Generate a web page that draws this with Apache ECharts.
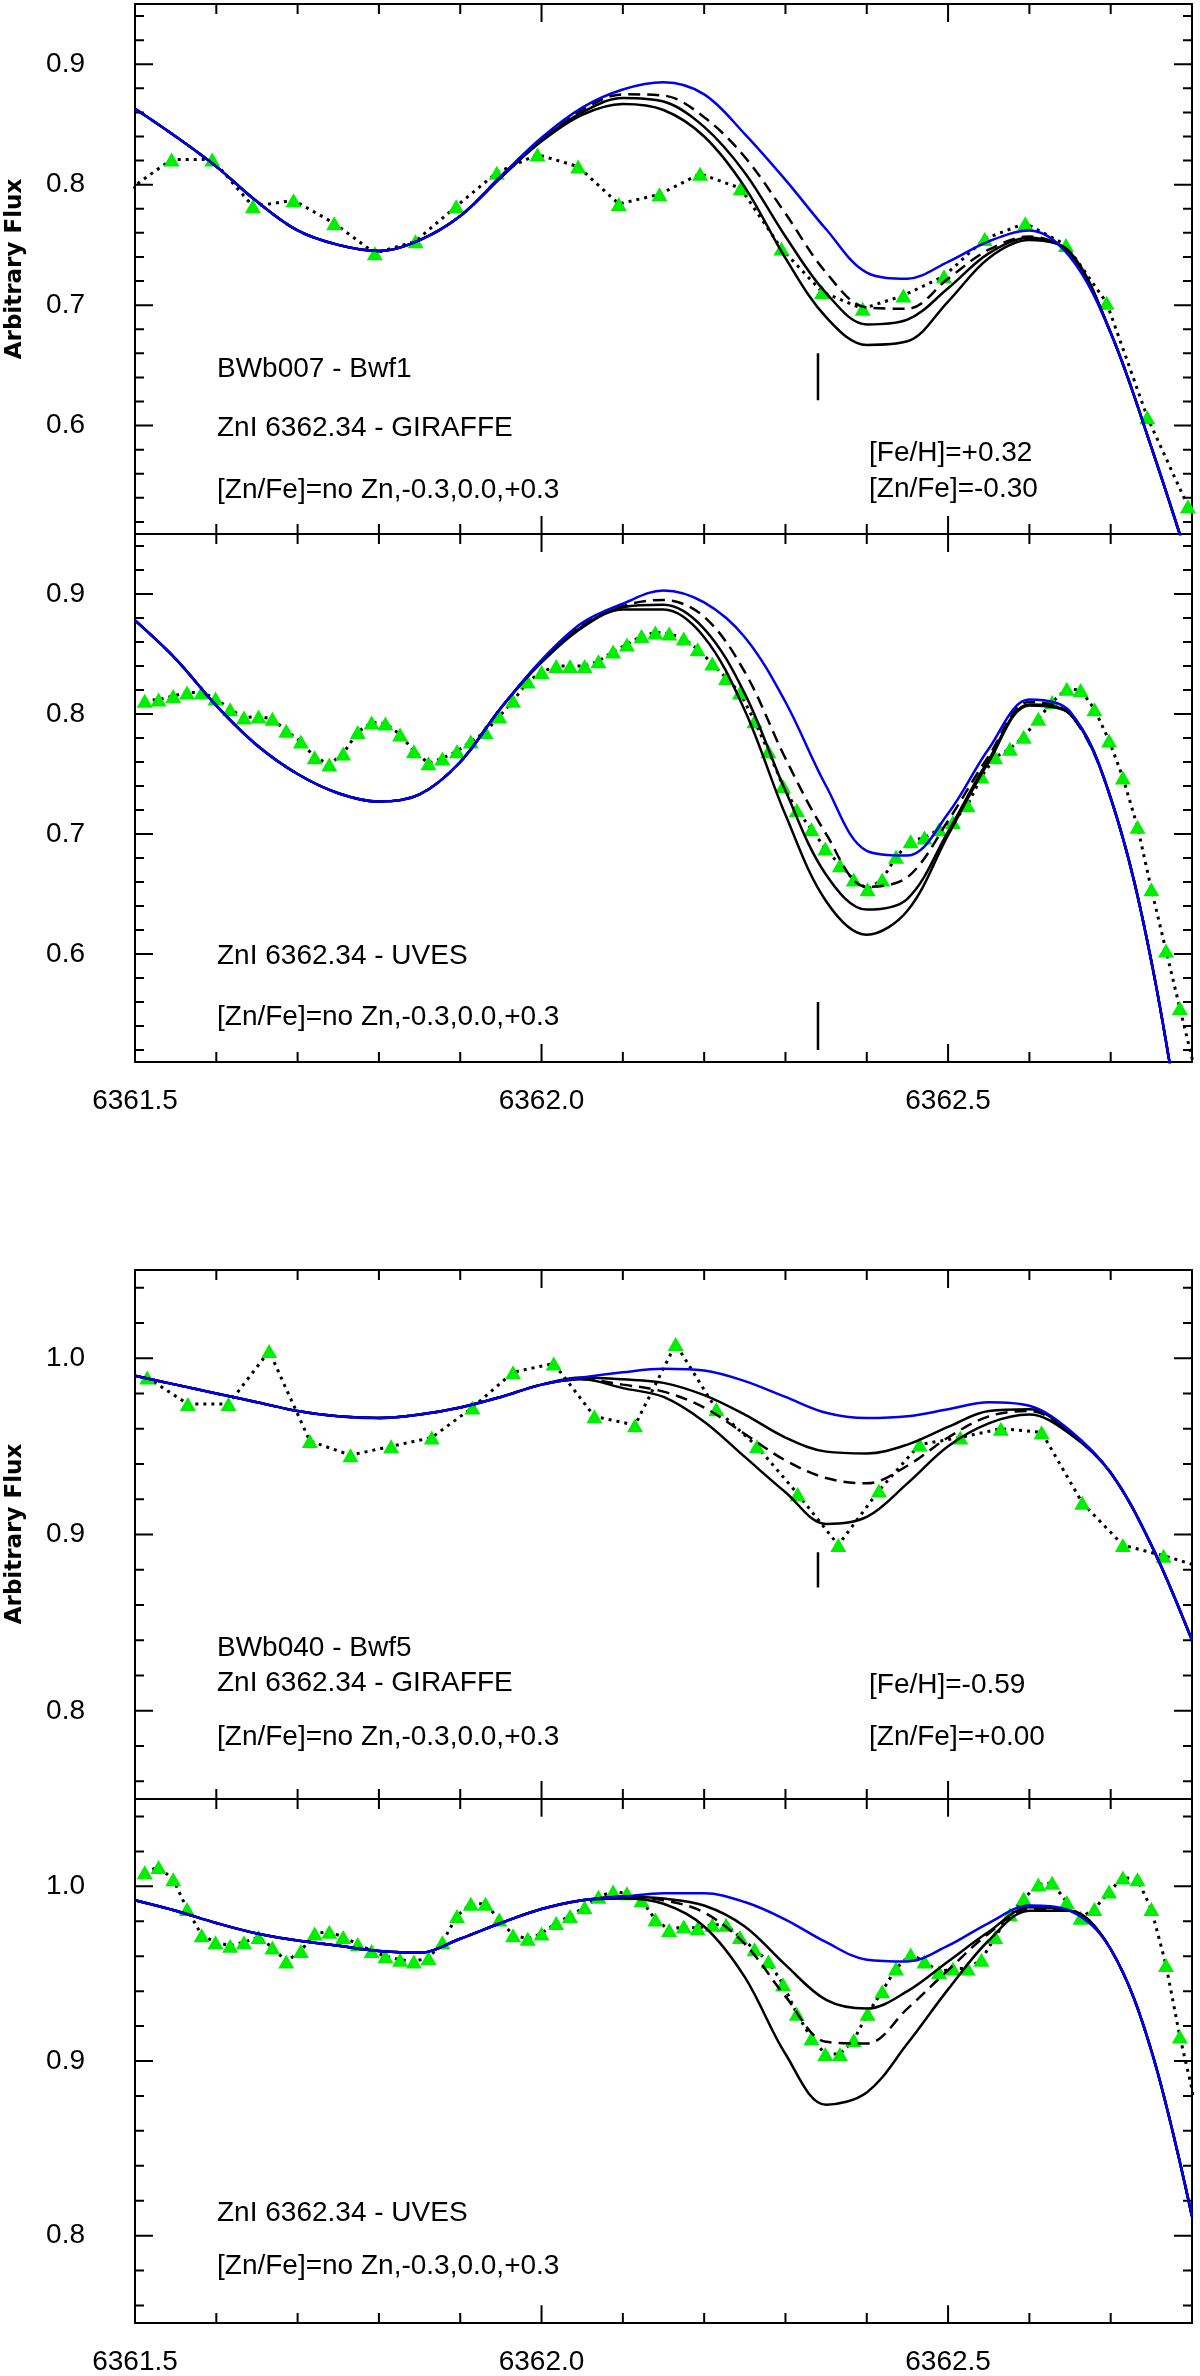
<!DOCTYPE html>
<html>
<head>
<meta charset="utf-8">
<script src="https://cdn.jsdelivr.net/npm/echarts@6/dist/echarts.min.js"></script>
<style>
    html, body { margin: 0; padding: 0; background: #fff; }
    #chartBox { width: 1200px; height: 2376px; }
</style>
</head>
<body>
<div id="chartBox"></div>
<script>
// wavelength grid of the synthetic spectra
var modelX = [6361.50, 6361.55, 6361.60, 6361.65, 6361.70, 6361.75, 6361.80, 6361.85, 6361.90, 6361.95,
    6362.00, 6362.05, 6362.10, 6362.15, 6362.20, 6362.25, 6362.30, 6362.35, 6362.40, 6362.45,
    6362.50, 6362.55, 6362.60, 6362.65, 6362.70, 6362.75, 6362.80];

// BWb007 GIRAFFE
var g1X = [6361.495, 6361.545, 6361.595, 6361.645, 6361.695, 6361.745, 6361.795, 6361.845, 6361.895, 6361.945,
    6361.995, 6362.045, 6362.095, 6362.145, 6362.195, 6362.245, 6362.295, 6362.345, 6362.395, 6362.445,
    6362.495, 6362.545, 6362.595, 6362.645, 6362.695, 6362.745, 6362.795];
var g1Flux = [0.797, 0.821, 0.821, 0.782, 0.787, 0.768, 0.743, 0.753, 0.782, 0.810,
    0.825, 0.815, 0.784, 0.792, 0.809, 0.797, 0.747, 0.711, 0.697, 0.708,
    0.724, 0.755, 0.768, 0.750, 0.702, 0.607, 0.533];
var m1NoZn = [0.863, 0.840, 0.815, 0.786, 0.762, 0.750, 0.745, 0.754, 0.774, 0.807, 0.839, 0.864, 0.879, 0.885, 0.875, 0.842, 0.804, 0.763, 0.727, 0.722, 0.736, 0.753, 0.762, 0.740, 0.677, 0.582, 0.478];
var m1M03 = [0.863, 0.840, 0.815, 0.786, 0.762, 0.750, 0.745, 0.754, 0.774, 0.807, 0.838, 0.862, 0.875, 0.874, 0.856, 0.823, 0.776, 0.727, 0.698, 0.697, 0.722, 0.746, 0.757, 0.742, 0.677, 0.582, 0.478];
var m1P00 = [0.863, 0.840, 0.815, 0.786, 0.762, 0.750, 0.745, 0.754, 0.774, 0.806, 0.837, 0.860, 0.872, 0.869, 0.848, 0.810, 0.757, 0.710, 0.684, 0.688, 0.714, 0.743, 0.756, 0.743, 0.677, 0.582, 0.478];
var m1P03 = [0.863, 0.840, 0.815, 0.786, 0.762, 0.750, 0.745, 0.754, 0.774, 0.806, 0.836, 0.858, 0.867, 0.862, 0.840, 0.798, 0.739, 0.690, 0.667, 0.670, 0.703, 0.739, 0.754, 0.744, 0.677, 0.582, 0.478];

// UVES wavelength grid (both UVES panels)
var uX = [6361.512, 6361.529, 6361.547, 6361.564, 6361.582, 6361.599, 6361.617, 6361.634, 6361.652, 6361.669,
    6361.686, 6361.704, 6361.721, 6361.739, 6361.756, 6361.774, 6361.791, 6361.808, 6361.826, 6361.843,
    6361.861, 6361.878, 6361.896, 6361.913, 6361.931, 6361.948, 6361.965, 6361.983, 6362.000, 6362.018,
    6362.035, 6362.053, 6362.070, 6362.088, 6362.105, 6362.123, 6362.140, 6362.157, 6362.175, 6362.192,
    6362.210, 6362.227, 6362.244, 6362.262, 6362.279, 6362.297, 6362.314, 6362.332, 6362.349, 6362.367,
    6362.384, 6362.401, 6362.419, 6362.436, 6362.454, 6362.471, 6362.489, 6362.506, 6362.524, 6362.541,
    6362.558, 6362.576, 6362.593, 6362.611, 6362.628, 6362.646, 6362.663, 6362.680, 6362.698, 6362.715,
    6362.733, 6362.750, 6362.768, 6362.785, 6362.803];

// BWb007 UVES
var u2Flux = [0.811, 0.812, 0.815, 0.818, 0.818, 0.813, 0.804, 0.797, 0.798, 0.796,
    0.786, 0.777, 0.764, 0.758, 0.767, 0.785, 0.793, 0.792, 0.783, 0.769,
    0.759, 0.763, 0.769, 0.777, 0.785, 0.798, 0.811, 0.827, 0.835, 0.840,
    0.840, 0.840, 0.844, 0.852, 0.858, 0.865, 0.868, 0.867, 0.863, 0.854,
    0.842, 0.830, 0.818, 0.794, 0.769, 0.740, 0.720, 0.704, 0.688, 0.674,
    0.662, 0.654, 0.662, 0.681, 0.694, 0.697, 0.704, 0.710, 0.724, 0.748,
    0.764, 0.771, 0.781, 0.796, 0.810, 0.821, 0.820, 0.804, 0.778, 0.747,
    0.706, 0.654, 0.603, 0.555, 0.505];
var m2NoZn = [0.878, 0.846, 0.807, 0.774, 0.750, 0.734, 0.727, 0.733, 0.760, 0.805, 0.845, 0.876, 0.892, 0.903, 0.893, 0.864, 0.810, 0.740, 0.686, 0.682, 0.717, 0.771, 0.812, 0.802, 0.730, 0.594, 0.390];
var m2M03 = [0.878, 0.846, 0.807, 0.774, 0.750, 0.734, 0.727, 0.733, 0.760, 0.805, 0.844, 0.874, 0.890, 0.895, 0.881, 0.835, 0.763, 0.700, 0.656, 0.664, 0.711, 0.765, 0.810, 0.800, 0.730, 0.594, 0.390];
var m2P00 = [0.878, 0.846, 0.807, 0.774, 0.750, 0.734, 0.727, 0.733, 0.760, 0.805, 0.844, 0.873, 0.889, 0.891, 0.871, 0.817, 0.736, 0.666, 0.637, 0.646, 0.702, 0.762, 0.808, 0.800, 0.730, 0.594, 0.390];
var m2P03 = [0.878, 0.846, 0.807, 0.774, 0.750, 0.734, 0.727, 0.733, 0.760, 0.805, 0.843, 0.872, 0.887, 0.887, 0.864, 0.803, 0.716, 0.644, 0.616, 0.636, 0.699, 0.760, 0.807, 0.800, 0.730, 0.594, 0.390];

// BWb040 GIRAFFE
var g3X = [6361.515, 6361.565, 6361.615, 6361.665, 6361.715, 6361.765, 6361.815, 6361.865, 6361.915, 6361.965,
    6362.015, 6362.065, 6362.115, 6362.165, 6362.215, 6362.265, 6362.315, 6362.365, 6362.415, 6362.465,
    6362.515, 6362.565, 6362.615, 6362.665, 6362.715, 6362.765, 6362.815];
var g3Flux = [0.989, 0.974, 0.974, 1.004, 0.953, 0.945, 0.950, 0.955, 0.972, 0.992,
    0.997, 0.967, 0.962, 1.008, 0.971, 0.950, 0.923, 0.894, 0.925, 0.951,
    0.955, 0.960, 0.958, 0.918, 0.894, 0.888, 0.881];
var m3NoZn = [0.990, 0.985, 0.980, 0.975, 0.970, 0.967, 0.966, 0.968, 0.972, 0.978, 0.985, 0.989, 0.992, 0.994, 0.993, 0.987, 0.978, 0.969, 0.966, 0.967, 0.971, 0.975, 0.973, 0.959, 0.935, 0.894, 0.840];
var m3M03 = [0.990, 0.985, 0.980, 0.975, 0.970, 0.967, 0.966, 0.968, 0.972, 0.978, 0.985, 0.989, 0.988, 0.986, 0.979, 0.968, 0.955, 0.947, 0.946, 0.951, 0.961, 0.970, 0.971, 0.958, 0.935, 0.894, 0.840];
var m3P00 = [0.990, 0.985, 0.980, 0.975, 0.970, 0.967, 0.966, 0.968, 0.972, 0.978, 0.985, 0.988, 0.985, 0.981, 0.972, 0.957, 0.942, 0.932, 0.929, 0.939, 0.955, 0.967, 0.970, 0.958, 0.935, 0.894, 0.840];
var m3P03 = [0.990, 0.985, 0.980, 0.975, 0.970, 0.967, 0.966, 0.968, 0.972, 0.978, 0.985, 0.988, 0.983, 0.978, 0.964, 0.944, 0.924, 0.906, 0.910, 0.929, 0.950, 0.963, 0.968, 0.957, 0.935, 0.894, 0.840];

// BWb040 UVES
var u4Flux = [1.008, 1.011, 1.004, 0.987, 0.972, 0.968, 0.966, 0.968, 0.971, 0.965,
    0.957, 0.963, 0.973, 0.974, 0.971, 0.967, 0.963, 0.960, 0.958, 0.957,
    0.959, 0.968, 0.983, 0.990, 0.990, 0.981, 0.972, 0.970, 0.973, 0.979,
    0.983, 0.988, 0.994, 0.997, 0.996, 0.992, 0.981, 0.975, 0.977, 0.976,
    0.978, 0.978, 0.971, 0.964, 0.957, 0.944, 0.927, 0.913, 0.904, 0.904,
    0.912, 0.927, 0.940, 0.953, 0.961, 0.957, 0.951, 0.953, 0.953, 0.958,
    0.971, 0.984, 0.993, 1.001, 1.002, 0.991, 0.982, 0.987, 0.997, 1.005,
    1.004, 0.987, 0.955, 0.914, 0.878];
var m4NoZn = [0.992, 0.986, 0.979, 0.973, 0.969, 0.966, 0.963, 0.962, 0.970, 0.979, 0.987, 0.992, 0.994, 0.996, 0.996, 0.991, 0.981, 0.968, 0.958, 0.957, 0.966, 0.979, 0.989, 0.986, 0.964, 0.906, 0.811];
var m4M03 = [0.992, 0.986, 0.979, 0.973, 0.969, 0.966, 0.963, 0.962, 0.970, 0.979, 0.987, 0.992, 0.994, 0.993, 0.989, 0.977, 0.955, 0.935, 0.930, 0.940, 0.957, 0.974, 0.988, 0.986, 0.964, 0.906, 0.811];
var m4P00 = [0.992, 0.986, 0.979, 0.973, 0.969, 0.966, 0.963, 0.962, 0.970, 0.979, 0.987, 0.992, 0.994, 0.992, 0.985, 0.967, 0.937, 0.911, 0.910, 0.930, 0.952, 0.973, 0.987, 0.986, 0.964, 0.906, 0.811];
var m4P03 = [0.992, 0.986, 0.979, 0.973, 0.969, 0.966, 0.963, 0.962, 0.970, 0.979, 0.987, 0.992, 0.993, 0.990, 0.977, 0.948, 0.904, 0.875, 0.882, 0.910, 0.941, 0.969, 0.986, 0.986, 0.964, 0.906, 0.811];

// ZnI 6362.34 line marker
var znX = [6362.34, 6362.34];
var zn1Y = [0.660, 0.621];
var zn2Y = [0.560, 0.520];
var zn3Y = [0.890, 0.870];

// ticks
var xMajorTicks = [6361.5, 6362.0, 6362.5];
var xMinorTicks = [6361.6, 6361.7, 6361.8, 6361.9, 6362.1, 6362.2, 6362.3, 6362.4, 6362.6, 6362.7];
var yMajorA = [0.6, 0.7, 0.8, 0.9];
var yMinorA = [0.52, 0.54, 0.56, 0.58, 0.62, 0.64, 0.66, 0.68, 0.72, 0.74, 0.76, 0.78, 0.82, 0.84, 0.86, 0.88, 0.92, 0.94];
var yMajorB = [0.8, 0.9, 1.0];
var yMinorB = [0.76, 0.78, 0.82, 0.84, 0.86, 0.88, 0.92, 0.94, 0.96, 0.98, 1.02, 1.04];

var X_MIN = 6361.5, X_MAX = 6362.8;
var FONT = '"Liberation Sans", Arial, Helvetica, sans-serif';
var GREEN = '#00ee00';
var BLUE = '#0000ee';
var LINE = {color: '#000', width: 2};
var GRID_LEFT = 135, GRID_W = 1057;
var TICK_MAJOR = 18, TICK_MINOR_X = 10, TICK_MINOR_Y = 9;

function pairs(xs, ys) {
    return xs.map(function (x, i) { return [x, ys[i]]; });
}

function fmt1(v) {
    return v.toFixed(1);
}

/**
 * frame and labels of one panel (bottom, top, left, right)
 */
function buildAxes(gi, yMin, yMax, yMajor, withXLabels) {
    var xs = [], ys = [];
    ['bottom', 'top'].forEach(function (pos) {
        xs.push({
            gridIndex: gi, type: 'value', position: pos, min: X_MIN, max: X_MAX,
            axisLine: {show: true, onZero: false, lineStyle: LINE},
            axisTick: {show: false},
            axisLabel: {
                show: withXLabels && pos === 'bottom', customValues: xMajorTicks, margin: 25,
                color: '#000', fontSize: 28, fontFamily: FONT, formatter: fmt1
            },
            splitLine: {show: false}
        });
    });
    ['left', 'right'].forEach(function (pos) {
        ys.push({
            gridIndex: gi, type: 'value', position: pos, min: yMin, max: yMax,
            axisLine: {show: true, onZero: false, lineStyle: LINE},
            axisTick: {show: false},
            axisLabel: {
                show: pos === 'left', customValues: yMajor, margin: 50,
                color: '#000', fontSize: 28, fontFamily: FONT, formatter: fmt1
            },
            splitLine: {show: false}
        });
    });
    return {x: xs, y: ys};
}

var AXES_PER_GRID = 2;

/**
 * inward ticks on all four sides as short broken line segments
 * (lengths given in px, turned into axis units of this panel)
 */
function tickLines(gi, yMin, yMax, height, yMajor, yMinor) {
    var kx = (X_MAX - X_MIN) / GRID_W;
    var ky = (yMax - yMin) / height;
    var d = [];
    function seg(a, b) { d.push(a, b, ['-', '-']); }
    xMajorTicks.forEach(function (v) {
        seg([v, yMin], [v, yMin + TICK_MAJOR * ky]);
        seg([v, yMax], [v, yMax - TICK_MAJOR * ky]);
    });
    xMinorTicks.forEach(function (v) {
        seg([v, yMin], [v, yMin + TICK_MINOR_X * ky]);
        seg([v, yMax], [v, yMax - TICK_MINOR_X * ky]);
    });
    yMajor.forEach(function (v) {
        seg([X_MIN, v], [X_MIN + TICK_MAJOR * kx, v]);
        seg([X_MAX, v], [X_MAX - TICK_MAJOR * kx, v]);
    });
    yMinor.forEach(function (v) {
        seg([X_MIN, v], [X_MIN + TICK_MINOR_Y * kx, v]);
        seg([X_MAX, v], [X_MAX - TICK_MINOR_Y * kx, v]);
    });
    return {
        type: 'line', xAxisIndex: gi * AXES_PER_GRID, yAxisIndex: gi * AXES_PER_GRID,
        data: d, symbol: 'none', connectNulls: false, clip: false, silent: true,
        lineStyle: {color: '#000', width: 2},
        z: 1
    };
}

/**
 * series of one panel: observed points, synthetic spectra, line marker
 */
function panelSeries(gi, obsX, obsY, models, dashIdx, markY) {
    var ax = gi * AXES_PER_GRID;
    var list = [];
    list.push({
        type: 'line', xAxisIndex: ax, yAxisIndex: ax, data: pairs(obsX, obsY),
        symbol: 'triangle', symbolSize: [16, 14], showAllSymbol: true, clip: true,
        itemStyle: {color: GREEN},
        lineStyle: {color: '#000', width: 3, type: [3, 5]},
        z: 2
    });
    // black ones: -0.3, 0.0, +0.3
    for (var k = 1; k < models.length; k++) {
        list.push({
            type: 'line', xAxisIndex: ax, yAxisIndex: ax, data: pairs(modelX, models[k]),
            symbol: 'none', smooth: 0.35, clip: true,
            lineStyle: {color: '#000', width: 2.5, type: k === dashIdx ? [12, 7] : 'solid'},
            z: 3
        });
    }
    // no Zn
    list.push({
        type: 'line', xAxisIndex: ax, yAxisIndex: ax, data: pairs(modelX, models[0]),
        symbol: 'none', smooth: 0.35, clip: true,
        lineStyle: {color: BLUE, width: 2.5},
        z: 4
    });
    if (markY) {
        list.push({
            type: 'line', xAxisIndex: ax, yAxisIndex: ax, data: pairs(znX, markY),
            symbol: 'none', lineStyle: {color: '#000', width: 2.5}, z: 4
        });
    }
    return list;
}

function txt(x, y, s) {
    return {
        type: 'text', x: x, y: y, silent: true,
        style: {text: s, fill: '#000', fontSize: 28, fontFamily: FONT, align: 'left', verticalAlign: 'middle'}
    };
}

function yTitle(y) {
    return {
        type: 'text', x: 15, y: y, rotation: Math.PI / 2, silent: true,
        style: {
            text: 'Arbitrary Flux', fill: '#000', fontSize: 23, fontWeight: 'bold',
            fontFamily: '"DejaVu Sans", sans-serif', align: 'center', verticalAlign: 'middle'
        }
    };
}

function zincChart() {
    var myChart = echarts.init(document.getElementById('chartBox'));
    var grids = [
        {left: GRID_LEFT, width: GRID_W, top: 4, height: 530},
        {left: GRID_LEFT, width: GRID_W, top: 534, height: 528},
        {left: GRID_LEFT, width: GRID_W, top: 1270, height: 529},
        {left: GRID_LEFT, width: GRID_W, top: 1799, height: 529}
    ];

    var a1 = buildAxes(0, 0.51, 0.95, yMajorA, false);
    var a2 = buildAxes(1, 0.51, 0.95, yMajorA, true);
    var a3 = buildAxes(2, 0.75, 1.05, yMajorB, false);
    var a4 = buildAxes(3, 0.75, 1.05, yMajorB, true);

    var series = [
        tickLines(0, 0.51, 0.95, 530, yMajorA, yMinorA),
        tickLines(1, 0.51, 0.95, 528, yMajorA, yMinorA),
        tickLines(2, 0.75, 1.05, 529, yMajorB, yMinorB),
        tickLines(3, 0.75, 1.05, 529, yMajorB, yMinorB)
    ]
        .concat(panelSeries(0, g1X, g1Flux, [m1NoZn, m1M03, m1P00, m1P03], 1, zn1Y))
        .concat(panelSeries(1, uX, u2Flux, [m2NoZn, m2M03, m2P00, m2P03], 1, zn2Y))
        .concat(panelSeries(2, g3X, g3Flux, [m3NoZn, m3M03, m3P00, m3P03], 2, zn3Y))
        .concat(panelSeries(3, uX, u4Flux, [m4NoZn, m4M03, m4P00, m4P03], 2, null));

    var zn = '[Zn/Fe]=no Zn,-0.3,0.0,+0.3';
    var option = {
        animation: false,
        backgroundColor: '#fff',
        grid: grids,
        xAxis: a1.x.concat(a2.x, a3.x, a4.x),
        yAxis: a1.y.concat(a2.y, a3.y, a4.y),
        series: series,
        graphic: [
            yTitle(269), yTitle(1534),
            txt(217, 369, 'BWb007 - Bwf1'),
            txt(217, 428, 'ZnI 6362.34 - GIRAFFE'),
            txt(217, 490, zn),
            txt(869, 453, '[Fe/H]=+0.32'),
            txt(869, 489, '[Zn/Fe]=-0.30'),
            txt(217, 956, 'ZnI 6362.34 - UVES'),
            txt(217, 1017, zn),
            txt(217, 1648, 'BWb040 - Bwf5'),
            txt(217, 1683, 'ZnI 6362.34 - GIRAFFE'),
            txt(217, 1737, zn),
            txt(869, 1685, '[Fe/H]=-0.59'),
            txt(869, 1737, '[Zn/Fe]=+0.00'),
            txt(217, 2213, 'ZnI 6362.34 - UVES'),
            txt(217, 2266, zn)
        ]
    };
    myChart.setOption(option);
}

zincChart();
</script>
</body>
</html>
